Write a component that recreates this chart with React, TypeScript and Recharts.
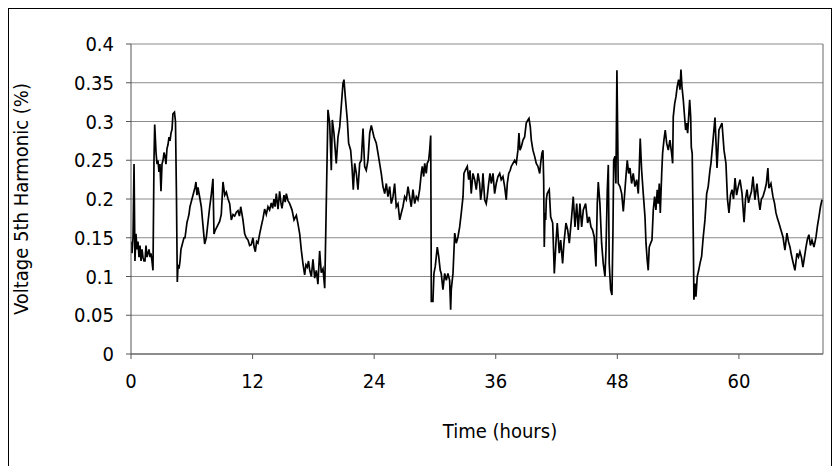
import { LineChart, Line, XAxis, YAxis, CartesianGrid, ReferenceLine } from 'recharts';

// time in hours
const hours = [
  0.00, 0.10, 0.20, 0.30, 0.39, 0.49, 0.59, 0.69, 0.79, 0.89, 0.99, 1.09, 1.18, 1.28, 1.38, 1.48, 1.58, 1.68, 1.78, 1.88,
  1.97, 2.07, 2.17, 2.27, 2.34, 2.47, 2.57, 2.66, 2.76, 2.86, 2.96, 3.06, 3.16, 3.26, 3.36, 3.45, 3.55, 3.65, 3.75, 3.85,
  3.95, 4.05, 4.14, 4.29, 4.39, 4.49, 4.57, 4.64, 4.74, 4.84, 4.93, 5.03, 5.13, 5.23, 5.33, 5.43, 5.53, 5.63, 5.72, 5.82,
  5.92, 6.02, 6.12, 6.22, 6.32, 6.41, 6.51, 6.61, 6.81, 6.94, 7.11, 7.27, 7.43, 7.60, 7.77, 7.92, 8.09, 8.19, 8.32, 8.52,
  8.75, 8.91, 9.08, 9.25, 9.41, 9.58, 9.74, 9.90, 10.07, 10.23, 10.40, 10.56, 10.70, 10.83, 11.05, 11.22, 11.38, 11.55, 11.71, 11.87,
  12.04, 12.15, 12.27, 12.40, 12.53, 12.70, 12.86, 13.03, 13.19, 13.35, 13.52, 13.68, 13.85, 13.98, 14.11, 14.22, 14.34, 14.51, 14.67, 14.80,
  14.90, 15.10, 15.22, 15.33, 15.49, 15.66, 15.89, 16.09, 16.32, 16.48, 16.65, 16.81, 16.97, 17.14, 17.27, 17.40, 17.52, 17.64, 17.80, 17.96,
  18.13, 18.29, 18.45, 18.62, 18.78, 18.95, 19.12, 19.21, 19.31, 19.44, 19.61, 19.77, 19.87, 20.03, 20.26, 20.43, 20.60, 20.75, 20.92, 21.02,
  21.15, 21.35, 21.48, 21.68, 21.81, 21.94, 22.08, 22.24, 22.40, 22.57, 22.73, 22.90, 23.06, 23.22, 23.39, 23.56, 23.72, 23.98, 24.21, 24.38,
  24.54, 24.70, 24.87, 25.04, 25.20, 25.36, 25.53, 25.69, 25.86, 26.02, 26.18, 26.35, 26.52, 26.68, 26.84, 27.01, 27.17, 27.34, 27.50, 27.66,
  27.83, 28.00, 28.16, 28.32, 28.49, 28.65, 28.75, 28.89, 28.99, 29.14, 29.24, 29.38, 29.48, 29.58, 29.61, 29.64, 29.80, 29.90, 30.03, 30.23,
  30.37, 30.52, 30.62, 30.79, 30.96, 31.12, 31.28, 31.45, 31.55, 31.61, 31.78, 31.95, 32.10, 32.27, 32.44, 32.60, 32.77, 32.86, 32.99, 33.19,
  33.33, 33.46, 33.58, 33.75, 33.92, 34.08, 34.25, 34.41, 34.51, 34.64, 34.74, 34.91, 35.06, 35.16, 35.30, 35.43, 35.56, 35.73, 35.89, 36.05,
  36.22, 36.39, 36.54, 36.71, 36.88, 37.04, 37.14, 37.28, 37.43, 37.53, 37.70, 37.87, 38.03, 38.19, 38.29, 38.39, 38.52, 38.69, 38.85, 39.01,
  39.18, 39.28, 39.41, 39.51, 39.67, 39.84, 40.00, 40.17, 40.34, 40.43, 40.56, 40.66, 40.73, 40.79, 40.86, 40.93, 40.99, 41.08, 41.28, 41.42,
  41.62, 41.78, 41.94, 42.07, 42.27, 42.41, 42.60, 42.73, 42.93, 43.10, 43.26, 43.49, 43.65, 43.82, 43.99, 44.14, 44.31, 44.48, 44.64, 44.87,
  45.07, 45.23, 45.40, 45.56, 45.72, 45.89, 46.02, 46.12, 46.28, 46.45, 46.61, 46.78, 46.88, 47.01, 47.11, 47.20, 47.34, 47.47, 47.57, 47.64,
  47.77, 47.86, 47.96, 48.03, 48.09, 48.26, 48.43, 48.59, 48.68, 48.85, 48.98, 49.12, 49.25, 49.41, 49.57, 49.74, 49.91, 50.07, 50.16, 50.26,
  50.40, 50.56, 50.73, 50.83, 50.95, 51.05, 51.15, 51.29, 51.42, 51.55, 51.68, 51.81, 51.94, 52.04, 52.14, 52.24, 52.38, 52.47, 52.60, 52.73,
  52.87, 53.03, 53.19, 53.36, 53.46, 53.52, 53.66, 53.79, 53.91, 54.05, 54.18, 54.28, 54.38, 54.51, 54.61, 54.74, 54.84, 54.94, 55.04, 55.14,
  55.24, 55.30, 55.39, 55.49, 55.56, 55.66, 55.76, 55.89, 56.03, 56.16, 56.32, 56.48, 56.65, 56.82, 56.97, 57.14, 57.24, 57.44, 57.64, 57.84,
  58.03, 58.33, 58.53, 58.72, 58.87, 59.02, 59.17, 59.32, 59.47, 59.62, 59.77, 59.92, 60.11, 60.31, 60.51, 60.65, 60.80, 60.95, 61.09, 61.24,
  61.39, 61.58, 61.78, 61.93, 62.08, 62.22, 62.37, 62.57, 62.71, 62.86, 62.96, 63.16, 63.36, 63.51, 63.66, 63.80, 63.95, 64.15, 64.35, 64.54,
  64.74, 64.89, 65.04, 65.18, 65.33, 65.53, 65.73, 65.88, 66.02, 66.17, 66.32, 66.47, 66.62, 66.76, 66.91, 67.06, 67.21, 67.41, 67.61, 67.75,
  67.90, 68.05, 68.20,
];

// voltage 5th harmonic, percent
const harmonic5 = [
  0.145, 0.13, 0.15, 0.245, 0.12, 0.155, 0.135, 0.145, 0.125, 0.14, 0.12, 0.135, 0.125, 0.12, 0.12, 0.14, 0.125, 0.13, 0.135, 0.125,
  0.13, 0.12, 0.108, 0.25, 0.296, 0.26, 0.245, 0.25, 0.235, 0.245, 0.21, 0.245, 0.25, 0.26, 0.255, 0.245, 0.265, 0.27, 0.28, 0.275,
  0.285, 0.29, 0.31, 0.312, 0.3, 0.2, 0.093, 0.115, 0.11, 0.12, 0.135, 0.14, 0.145, 0.15, 0.15, 0.16, 0.17, 0.175, 0.18, 0.19,
  0.195, 0.2, 0.205, 0.21, 0.215, 0.222, 0.205, 0.215, 0.2, 0.19, 0.165, 0.142, 0.15, 0.17, 0.19, 0.205, 0.226, 0.155, 0.16, 0.165,
  0.171, 0.18, 0.222, 0.205, 0.209, 0.2, 0.194, 0.173, 0.18, 0.178, 0.183, 0.185, 0.178, 0.19, 0.173, 0.155, 0.15, 0.147, 0.14, 0.141,
  0.15, 0.138, 0.132, 0.145, 0.143, 0.155, 0.165, 0.175, 0.187, 0.18, 0.19, 0.186, 0.195, 0.188, 0.2, 0.19, 0.207, 0.187, 0.21, 0.195,
  0.188, 0.205, 0.196, 0.207, 0.198, 0.194, 0.186, 0.173, 0.179, 0.168, 0.155, 0.134, 0.117, 0.102, 0.115, 0.112, 0.12, 0.108, 0.1, 0.122,
  0.098, 0.108, 0.09, 0.133, 0.105, 0.11, 0.085, 0.147, 0.22, 0.315, 0.298, 0.237, 0.302, 0.285, 0.246, 0.28, 0.293, 0.319, 0.349, 0.354,
  0.332, 0.302, 0.272, 0.263, 0.242, 0.212, 0.246, 0.233, 0.212, 0.246, 0.25, 0.291, 0.242, 0.237, 0.25, 0.285, 0.295, 0.28, 0.272, 0.259,
  0.246, 0.233, 0.216, 0.207, 0.22, 0.203, 0.216, 0.194, 0.203, 0.22, 0.19, 0.194, 0.173, 0.182, 0.19, 0.203, 0.199, 0.216, 0.203, 0.19,
  0.212, 0.194, 0.203, 0.199, 0.212, 0.233, 0.242, 0.229, 0.246, 0.233, 0.246, 0.25, 0.263, 0.282, 0.19, 0.068, 0.068, 0.104, 0.113, 0.138,
  0.126, 0.108, 0.104, 0.083, 0.104, 0.095, 0.104, 0.095, 0.057, 0.083, 0.104, 0.156, 0.143, 0.151, 0.164, 0.182, 0.203, 0.233, 0.237, 0.242,
  0.225, 0.237, 0.207, 0.233, 0.225, 0.212, 0.233, 0.22, 0.199, 0.212, 0.233, 0.199, 0.194, 0.203, 0.22, 0.233, 0.22, 0.233, 0.207, 0.22,
  0.229, 0.233, 0.225, 0.229, 0.216, 0.199, 0.22, 0.233, 0.237, 0.242, 0.246, 0.25, 0.246, 0.263, 0.285, 0.263, 0.267, 0.276, 0.28, 0.298,
  0.302, 0.304, 0.293, 0.276, 0.263, 0.255, 0.246, 0.242, 0.233, 0.246, 0.259, 0.263, 0.225, 0.138, 0.182, 0.173, 0.199, 0.207, 0.212, 0.177,
  0.169, 0.104, 0.143, 0.169, 0.13, 0.147, 0.117, 0.143, 0.169, 0.16, 0.143, 0.177, 0.203, 0.164, 0.194, 0.16, 0.194, 0.164, 0.186, 0.194,
  0.169, 0.177, 0.164, 0.16, 0.151, 0.113, 0.194, 0.222, 0.194, 0.143, 0.117, 0.1, 0.134, 0.212, 0.244, 0.117, 0.083, 0.076, 0.16, 0.25,
  0.255, 0.22, 0.366, 0.289, 0.22, 0.216, 0.207, 0.184, 0.199, 0.229, 0.25, 0.233, 0.24, 0.22, 0.233, 0.216, 0.225, 0.207, 0.237, 0.278,
  0.237, 0.207, 0.177, 0.143, 0.121, 0.108, 0.138, 0.143, 0.147, 0.186, 0.203, 0.186, 0.212, 0.194, 0.22, 0.182, 0.233, 0.259, 0.276, 0.289,
  0.272, 0.263, 0.276, 0.259, 0.246, 0.306, 0.323, 0.332, 0.345, 0.354, 0.341, 0.367, 0.345, 0.328, 0.311, 0.289, 0.298, 0.285, 0.306, 0.328,
  0.306, 0.267, 0.259, 0.16, 0.07, 0.091, 0.074, 0.1, 0.108, 0.117, 0.126, 0.151, 0.173, 0.207, 0.216, 0.237, 0.246, 0.275, 0.305, 0.24,
  0.289, 0.298, 0.263, 0.246, 0.2, 0.182, 0.205, 0.212, 0.2, 0.227, 0.205, 0.215, 0.225, 0.207, 0.17, 0.2, 0.212, 0.195, 0.203, 0.21,
  0.229, 0.199, 0.22, 0.2, 0.186, 0.2, 0.203, 0.212, 0.22, 0.24, 0.214, 0.22, 0.203, 0.195, 0.182, 0.175, 0.169, 0.16, 0.151, 0.134,
  0.156, 0.145, 0.138, 0.128, 0.119, 0.108, 0.13, 0.125, 0.132, 0.125, 0.112, 0.125, 0.138, 0.148, 0.154, 0.14, 0.147, 0.138, 0.151, 0.165,
  0.177, 0.19, 0.199,
];

const xTicks = [0, 12, 24, 36, 48, 60];
const yTicks = [0, 0.05, 0.1, 0.15, 0.2, 0.25, 0.3, 0.35, 0.4];
const X_MAX = 68.3;

const FONT = '"DejaVu Sans Condensed", "DejaVu Sans", Verdana, sans-serif';

export default function App() {
  const data = hours.map((h, i) => ({ h, v: harmonic5[i] }));
  const tickStyle = { fontSize: 20, fill: '#000', fontFamily: FONT, fontStretch: 'condensed' };

  return (
    <div style={{ position: 'absolute', left: 0, top: 0, width: 833, height: 466, overflow: 'hidden', background: '#fff' }}>
      <div
        style={{
          position: 'absolute', left: 8, top: 8, width: 824, height: 470,
          border: '1px solid #000', boxSizing: 'border-box',
        }}
      />
      <LineChart
        width={833}
        height={466}
        data={data}
        margin={{ top: 44, right: 10, bottom: 52, left: 60 }}
        style={{ position: 'absolute', left: 0, top: 0 }}
      >
        <CartesianGrid vertical={false} stroke="#8a8a8a" strokeWidth={1} />
        <XAxis
          dataKey="h"
          type="number"
          domain={[0, X_MAX]}
          ticks={xTicks}
          allowDataOverflow
          height={60}
          tick={tickStyle}
          tickSize={5}
          tickMargin={15}
          stroke="#555"
        />
        <YAxis
          type="number"
          domain={[0, 0.4]}
          ticks={yTicks}
          width={71}
          tick={tickStyle}
          tickSize={5}
          tickMargin={12}
          stroke="#555"
          interval={0}
        />
        <ReferenceLine x={X_MAX} stroke="#666" />
        <Line
          type="linear"
          dataKey="v"
          stroke="#000"
          strokeWidth={1.7}
          dot={false}
          isAnimationActive={false}
        />
      </LineChart>
      <div
        style={{
          position: 'absolute', left: 21, top: 199,
          transform: 'translate(-50%, -50%) rotate(-90deg)',
          whiteSpace: 'nowrap', fontFamily: FONT, fontStretch: 'condensed', fontSize: 20, color: '#000',
        }}
      >
        Voltage 5th Harmonic (%)
      </div>
      <div
        style={{
          position: 'absolute', left: 500, top: 431,
          transform: 'translate(-50%, -50%)',
          whiteSpace: 'nowrap', fontFamily: FONT, fontStretch: 'condensed', fontSize: 20, color: '#000',
        }}
      >
        Time (hours)
      </div>
    </div>
  );
}
